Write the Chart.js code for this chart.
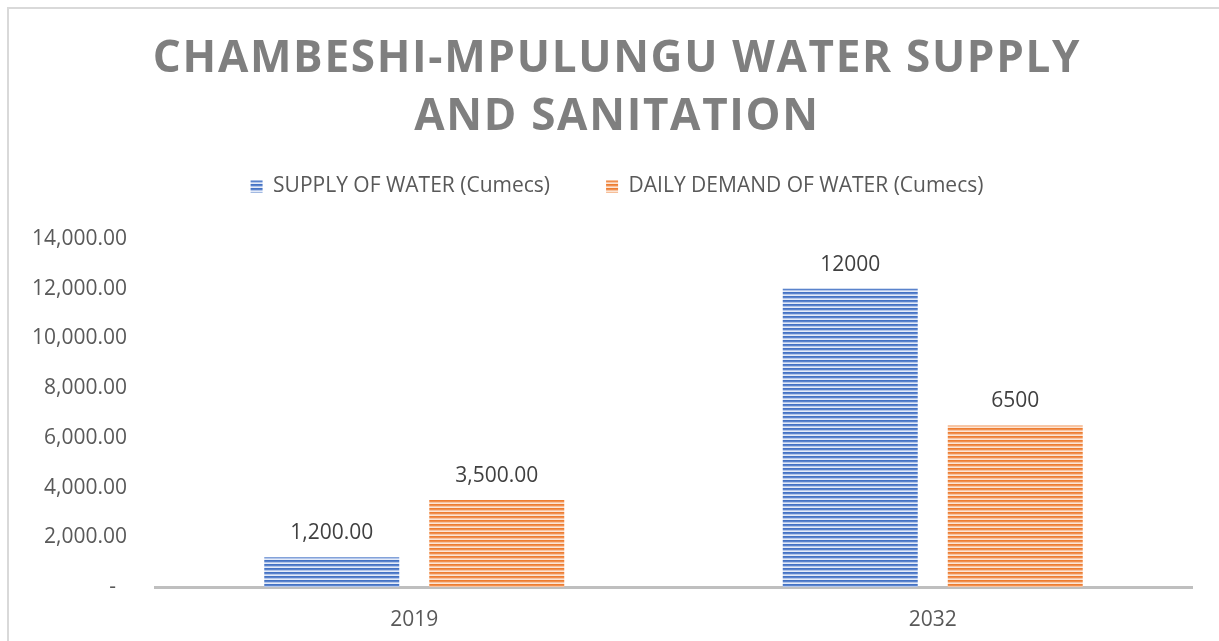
<!DOCTYPE html>
<html><head><meta charset="utf-8">
<script src="https://cdn.jsdelivr.net/npm/chart.js@4.4.0/dist/chart.umd.min.js"></script>
<style>
html,body{margin:0;padding:0;background:#fff;}
#wrap{position:relative;width:1219px;height:641px;overflow:hidden;}
#frame{position:absolute;left:7px;top:7px;width:1300px;height:700px;border-left:2px solid #d9d9d9;border-top:2px solid #d9d9d9;}
canvas{position:absolute;left:0;top:0;}
</style></head><body>
<div id="wrap"><div id="frame"></div><canvas id="c" width="1219" height="641"></canvas></div>
<script>
const TITLE_LINES = ['CHAMBESHI-MPULUNGU WATER SUPPLY', 'AND SANITATION'];
const CATEGORIES = ['2019', '2032'];
const SUPPLY_LABEL = 'SUPPLY OF WATER (Cumecs)';
const DEMAND_LABEL = 'DAILY DEMAND OF WATER (Cumecs)';
const SUPPLY = [1200, 12000];
const DEMAND = [3500, 6500];
const SUPPLY_TEXT = ['1,200.00', '12000'];
const DEMAND_TEXT = ['3,500.00', '6500'];
const Y_MIN = 0, Y_MAX = 14000, Y_STEP = 2000;

const FONT = '"Open Sans", sans-serif';
const LEGEND_EXTRA = 32;
const TITLE_SPACING = '1.7px';

function stripes(ctx, colors) {
  const c = document.createElement('canvas');
  c.width = 1; c.height = colors.length;
  const x = c.getContext('2d');
  colors.forEach((col, i) => { x.fillStyle = col; x.fillRect(0, i, 1, 1); });
  return ctx.createPattern(c, 'repeat');
}

const valueLabels = {
  id: 'valueLabels',
  afterDatasetsDraw(chart) {
    const ctx = chart.ctx;
    ctx.save();
    ctx.font = '21px ' + FONT;
    ctx.fillStyle = '#404040';
    ctx.textAlign = 'center';
    ctx.textBaseline = 'middle';
    chart.data.datasets.forEach((ds, di) => {
      const meta = chart.getDatasetMeta(di);
      meta.data.forEach((el, i) => ctx.fillText(ds.valueText[i], el.x, el.y - 24));
    });
    ctx.restore();
  }
};

const layoutTweaks = {
  id: 'layoutTweaks',
  beforeLayout(chart) {
    const lg = chart.legend;
    if (lg && !lg.__spaced) {
      const fit = lg.fit;
      lg.fit = function () { fit.call(this); this.height += LEGEND_EXTRA; };
      lg.__spaced = true;
    }
    const tb = chart.titleBlock;
    if (tb && !tb.__spaced) {
      const draw = tb.draw;
      tb.draw = function (a) {
        const ctx = this.ctx;
        ctx.save();
        ctx.letterSpacing = TITLE_SPACING;
        draw.call(this, a);
        ctx.restore();
      };
      tb.__spaced = true;
    }
  },
  afterLayout(chart) {
    // let the y tick labels extend left of the axis box without being clipped
    chart.scales.y.left = 0;
  }
};

function build() {
  const canvas = document.getElementById('c');
  const ctx = canvas.getContext('2d');
  const blue = stripes(ctx, ['#4472c4', '#5a83cc', '#b3c6ea', '#e4ebf8']);
  const orange = stripes(ctx, ['#ed7d31', '#f08f4f', '#f7c4a2', '#fce5d5']);
  new Chart(ctx, {
    type: 'bar',
    data: {
      labels: CATEGORIES,
      datasets: [
        { label: SUPPLY_LABEL, data: SUPPLY, valueText: SUPPLY_TEXT, backgroundColor: blue, borderColor: '#4472c4', borderWidth: 0, barPercentage: 0.818, categoryPercentage: 0.6365 },
        { label: DEMAND_LABEL, data: DEMAND, valueText: DEMAND_TEXT, backgroundColor: orange, borderColor: '#ed7d31', borderWidth: 0, barPercentage: 0.818, categoryPercentage: 0.6365 }
      ]
    },
    options: {
      responsive: false,
      animation: false,
      devicePixelRatio: 1,
      font: { family: FONT },
      layout: { padding: { top: 10, left: 42, right: 27, bottom: 0 } },
      plugins: {
        title: {
          display: true, text: TITLE_LINES, color: '#7f7f7f',
          font: { family: FONT, size: 44, weight: 'bold', lineHeight: 58 / 44 },
          padding: { top: 20, bottom: -26 }
        },
        legend: {
          display: true, position: 'top',
          labels: { boxWidth: 12, boxHeight: 12, padding: 56, color: '#595959', font: { family: FONT, size: 21 } }
        },
        tooltip: { enabled: false }
      },
      scales: {
        x: {
          grid: { display: false, drawTicks: false },
          border: { display: true, color: '#bfbfbf', width: 3 },
          ticks: { color: '#595959', font: { family: FONT, size: 21 }, padding: 20 },
          afterFit(s) { s.height = 54; }
        },
        y: {
          min: Y_MIN, max: Y_MAX,
          grid: { display: false, drawTicks: false },
          border: { display: false },
          ticks: {
            stepSize: Y_STEP, color: '#595959', font: { family: FONT, size: 21 }, padding: 28,
            callback: v => v === 0 ? '-  ' : Number(v).toLocaleString('en-US', { minimumFractionDigits: 2, maximumFractionDigits: 2 })
          },
          afterFit(s) { s.width = 113; }
        }
      }
    },
    plugins: [valueLabels, layoutTweaks]
  });
}

const ready = (document.fonts && document.fonts.load)
  ? Promise.all([document.fonts.load('bold 44px "Open Sans"'), document.fonts.load('21px "Open Sans"')]).catch(() => {})
  : Promise.resolve();
ready.then(build);
</script>
</body></html>
